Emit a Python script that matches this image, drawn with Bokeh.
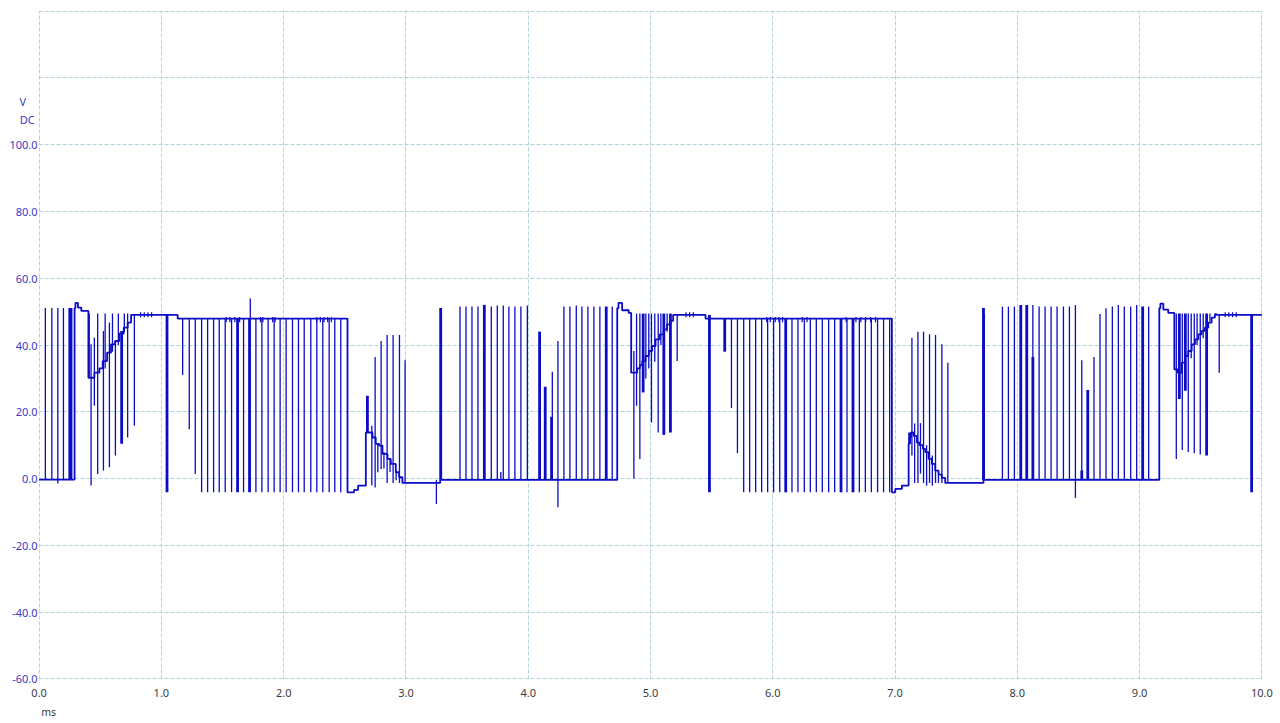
from bokeh.plotting import figure
from bokeh.models import ColumnDataSource, FixedTicker, PrintfTickFormatter, LinearAxis
from bokeh.embed import file_html
from bokeh.resources import INLINE

# ---------------- data (time in ms, voltage in V) ----------------
x_ticks = [0, 1, 2, 3, 4, 5, 6, 7, 8, 9, 10]
y_ticks = [-60, -40, -20, 0, 20, 40, 60, 80, 100, 120, 140]
y_label_hidden = [120, 140]
unit_v_at = 112.9      # "V" unit caption beside the y axis
unit_dc_at = 107.5     # "DC" coupling caption
unit_ms_at = 0.078     # "ms" caption under the x axis

# stepped baseline of the trace
base_t = [0.000, 0.290, 0.297, 0.318, 0.345, 0.403, 0.452, 0.493, 0.520, 0.556,
          0.588, 0.621, 0.656, 0.692, 0.724, 0.752, 1.133, 2.522, 2.576, 2.609,
          2.672, 2.726, 2.753, 2.780, 2.808, 2.849, 2.876, 2.917, 2.944, 2.971,
          3.280, 4.728, 4.738, 4.768, 4.822, 4.842, 4.891, 4.913, 4.932, 4.959,
          4.986, 5.013, 5.041, 5.076, 5.109, 5.136, 5.163, 5.185, 5.450, 6.974,
          7.002, 7.056, 7.111, 7.119, 7.130, 7.151, 7.179, 7.200, 7.228, 7.247,
          7.274, 7.301, 7.328, 7.356, 7.383, 7.410, 7.723, 9.161, 9.170, 9.194,
          9.234, 9.284, 9.311, 9.344, 9.371, 9.398, 9.426, 9.453, 9.480, 9.507,
          9.534, 9.562, 9.589, 9.616, 9.630, 10.000]
base_v = [-0.3, 51.0, 52.6, 51.2, 50.2, 30.2, 31.7, 33.0, 35.2, 37.7,
          40.2, 41.2, 43.4, 45.2, 46.7, 49.0, 47.9, -4.1, -3.4, -2.1,
          13.8, 12.3, 10.4, 9.9, 7.4, 5.9, 4.4, 1.9, 0.4, -1.3,
          -0.4, 51.0, 52.6, 50.4, 49.6, 31.7, 33.0, 34.0, 35.2, 36.7,
          38.2, 39.7, 41.7, 43.2, 44.7, 46.2, 47.2, 49.0, 47.9, -4.1,
          -3.1, -2.1, 10.4, 12.3, 13.8, 12.8, 10.8, 10.0, 8.9, 7.9,
          5.9, 4.4, 2.4, 1.2, 0.2, -1.3, -0.4, 51.0, 52.4, 50.6,
          49.6, 32.7, 31.7, 34.7, 36.7, 38.2, 40.2, 41.7, 43.2, 44.2,
          45.2, 46.7, 48.2, 49.2, 49.0, 49.0]

# PWM pulses / notches: (time, low, high)
start_spikes = [(0.051, -0.3, 51.1), (0.104, -0.3, 51.1), (0.153, -1.5, 51.1), (0.199, -0.3, 51.1)]
ramp1_spikes = [(0.410, 30.2, 49.4), (0.425, -2.1, 40.2), (0.452, 21.8, 42.2), (0.479, 1.4, 49.4),
                (0.526, 2.4, 44.2), (0.540, 33.0, 49.4), (0.575, 3.4, 46.7), (0.600, 38.0, 49.4),
                (0.624, 6.9, 41.2), (0.648, 40.0, 49.4), (0.697, 44.0, 49.4), (0.724, 12.3, 49.4),
                (0.779, 15.8, 49.0)]
flat1_spikes = [(1.174, 31.0, 47.9), (1.228, 14.8, 47.9), (1.277, 1.4, 47.9), (1.727, 47.9, 53.9)]
flat1_notch_t = [1.329, 1.378, 1.427, 1.473, 1.522, 1.574, 1.672, 1.773, 1.822, 1.873,
                 1.922, 1.971, 2.020, 2.072, 2.121, 2.168, 2.222, 2.271, 2.320, 2.372,
                 2.418, 2.467]
decay1_spikes = [(2.721, -2.1, 15.8), (2.748, -2.7, 36.4), (2.770, 1.9, 10.4), (2.797, 2.9, 41.2),
                 (2.820, 3.0, 8.0), (2.846, -1.3, 43.0), (2.870, 2.0, 6.0), (2.895, -1.3, 43.0),
                 (2.920, -0.5, 2.5), (2.947, -1.3, 43.0), (2.993, -1.3, 35.4), (3.249, -7.6, -0.4)]
low1_spikes = [(3.290, -0.4, 49.0), (3.442, -0.4, 51.5), (3.491, -0.4, 51.5), (3.540, -0.4, 51.5),
               (3.589, -0.4, 51.5), (3.698, -0.4, 51.5), (3.747, -0.4, 51.8), (3.776, -0.4, 2.0),
               (3.796, -0.4, 51.8), (3.842, -0.4, 51.5), (3.891, -0.4, 51.5), (3.940, -0.4, 51.5),
               (3.993, -0.4, 51.8), (4.197, -0.4, 32.0), (4.243, -8.6, 41.2), (4.292, -0.4, 51.5),
               (4.341, -0.4, 51.5), (4.393, -0.4, 51.8), (4.439, -0.4, 51.5), (4.488, -0.4, 51.5),
               (4.537, -0.4, 51.5), (4.586, -0.4, 51.5), (4.687, -0.4, 51.5)]
ramp2_spikes = [(4.864, 0.0, 38.2), (4.886, 21.8, 49.4), (4.913, 5.9, 49.4), (4.962, 30.0, 49.4),
                (4.986, 33.0, 49.4), (5.008, 16.8, 49.4), (5.035, 35.0, 49.4), (5.063, 13.8, 49.4),
                (5.085, 40.0, 49.4), (5.136, 44.0, 49.4), (5.218, 35.2, 49.0)]
flat2_spikes = [(5.662, 21.1, 47.9), (5.711, 7.6, 47.9)]
flat2_notch_t = [5.762, 5.811, 5.860, 5.909, 5.958, 6.007, 6.057, 6.157, 6.206, 6.258,
                 6.307, 6.356, 6.405, 6.457, 6.506, 6.607, 6.708, 6.757, 6.806, 6.857,
                 6.906, 6.956]
decay2_spikes = [(7.138, 6.9, 42.2), (7.160, -1.3, 16.5), (7.187, -1.3, 44.0), (7.208, 1.5, 16.6),
                 (7.233, -1.3, 44.0), (7.258, -2.1, 10.0), (7.282, -1.3, 43.2), (7.305, -2.1, 6.9),
                 (7.331, -1.3, 43.0), (7.355, -1.3, 2.0), (7.383, -1.3, 40.2), (7.432, -1.3, 34.7)]
low2_spikes = [(7.730, -0.4, 49.3), (7.878, -0.4, 51.5), (7.927, -0.4, 51.5), (7.976, -0.4, 51.5),
               (8.127, -0.4, 52.0), (8.178, -0.4, 51.5), (8.227, -0.4, 51.5), (8.276, -0.4, 51.5),
               (8.325, -0.4, 51.5), (8.377, -0.4, 51.5), (8.426, -0.4, 51.5), (8.475, -5.8, 52.0),
               (8.527, -0.4, 35.4), (8.627, -0.4, 36.4), (8.676, -0.4, 49.3), (8.725, -0.4, 51.0),
               (8.777, -0.4, 51.5), (8.826, -0.4, 52.0), (8.875, -0.4, 51.5), (8.927, -0.4, 51.5),
               (8.976, -0.4, 52.0), (9.074, -0.4, 51.5)]
ramp3_spikes = [(9.300, 5.9, 49.4), (9.349, 8.6, 49.4), (9.398, 8.0, 49.4), (9.422, 36.0, 49.4),
                (9.447, 7.6, 49.4), (9.470, 40.0, 49.4), (9.496, 7.2, 49.4), (9.520, 42.0, 49.4),
                (9.575, 47.0, 49.4), (9.651, 31.7, 49.0)]

# heavier (double-sampled) pulses: (time, low, high)
heavy_spikes = [(0.251, -0.3, 51.1), (0.261, -0.3, 51.1), (0.675, 10.4, 44.2),
                (1.046, -4.1, 49.0), (1.623, -4.1, 47.9), (1.721, -4.1, 47.9),
                (2.685, 13.8, 24.8), (3.284, -0.4, 51.1), (3.641, -0.4, 52.0),
                (4.093, -0.4, 44.0), (4.139, -0.4, 27.5), (4.191, -0.4, 18.5), (4.638, -0.4, 51.5),
                (4.940, 25.8, 49.4), (5.109, 13.1, 49.4), (5.163, 13.8, 49.4),
                (5.482, -4.1, 49.0), (5.607, 38.0, 47.9), (6.106, -4.1, 47.9), (6.558, -4.1, 47.9),
                (6.656, -4.1, 47.9), (7.119, 10.4, 13.8), (7.723, -0.4, 51.1), (8.028, -0.4, 52.0),
                (8.077, -0.4, 52.0), (8.127, -0.4, 36.4), (8.527, -0.4, 2.4), (8.576, -0.4, 26.5),
                (9.025, -0.4, 51.5), (9.325, 23.8, 49.4), (9.374, 26.3, 49.4), (9.548, 6.9, 49.4),
                (9.916, -4.1, 49.0)]

# small ripple ticks on the plateaus: (time, low, high)
ripple_ticks = [(0.83, 48.3, 49.8), (0.86, 48.3, 49.8), (0.89, 48.3, 49.8), (0.92, 48.3, 49.8),
                (1.53, 46.8, 48.4), (1.56, 46.8, 48.4), (1.60, 46.8, 48.4), (1.64, 46.8, 48.4),
                (1.81, 46.8, 48.4), (1.83, 46.8, 48.4), (1.91, 46.8, 48.4), (1.93, 46.8, 48.4),
                (2.27, 46.8, 48.4), (2.30, 46.8, 48.4), (2.33, 46.8, 48.4), (2.36, 46.8, 48.4),
                (2.39, 46.8, 48.4), (5.29, 48.3, 49.8), (5.32, 48.3, 49.8), (5.35, 48.3, 49.8),
                (5.95, 46.8, 48.4), (5.98, 46.8, 48.4), (6.02, 46.8, 48.4), (6.05, 46.8, 48.4),
                (6.08, 46.8, 48.4), (6.24, 46.8, 48.4), (6.28, 46.8, 48.4), (6.60, 46.8, 48.4),
                (6.68, 46.8, 48.4), (6.72, 46.8, 48.4), (6.76, 46.8, 48.4), (6.80, 46.8, 48.4),
                (6.84, 46.8, 48.4), (9.70, 48.3, 49.8), (9.73, 48.3, 49.8), (9.76, 48.3, 49.8),
                (9.79, 48.3, 49.8)]

flat_notch_lo = -4.1
flat_notch_hi = 47.9

# ---------------- assemble ----------------
thin = (start_spikes + ramp1_spikes + flat1_spikes
        + [(t, flat_notch_lo, flat_notch_hi) for t in flat1_notch_t]
        + decay1_spikes + low1_spikes + ramp2_spikes + flat2_spikes
        + [(t, flat_notch_lo, flat_notch_hi) for t in flat2_notch_t]
        + decay2_spikes + low2_spikes + ramp3_spikes)

def cds(rows):
    return ColumnDataSource(dict(t=[r[0] for r in rows], lo=[r[1] for r in rows], hi=[r[2] for r in rows]))

TRACE = "#0c0cc6"
YLAB = "#3a3ac2"
XLAB = "#3c3c3c"
GRID = "#b2d3da"
FONT = "Noto Sans"
NB = "\u00a0"

p = figure(frame_width=1224, frame_height=669, x_range=(-0.005, 10.005), y_range=(-60.15, 140.15),
           output_backend="svg", toolbar_location=None,
           min_border_left=38, min_border_right=18, min_border_top=10, min_border_bottom=44)
p.outline_line_color = None
p.background_fill_color = "white"
p.border_fill_color = "white"

p.xaxis.ticker = FixedTicker(ticks=x_ticks)
p.yaxis.ticker = FixedTicker(ticks=y_ticks + [unit_dc_at, unit_v_at])
p.xgrid.ticker = FixedTicker(ticks=x_ticks)
p.ygrid.ticker = FixedTicker(ticks=y_ticks)
p.xaxis.formatter = PrintfTickFormatter(format="%.1f")
p.yaxis.formatter = PrintfTickFormatter(format="%.1f")
overrides = {v: "" for v in y_label_hidden}
overrides[unit_v_at] = "V" + NB * 4
overrides[unit_dc_at] = "DC" + NB
p.yaxis.major_label_overrides = overrides

ms_axis = LinearAxis(ticker=FixedTicker(ticks=[unit_ms_at]),
                     major_label_overrides={unit_ms_at: "ms"})
p.add_layout(ms_axis, "below")

for ax in (p.xaxis[0], p.yaxis[0], ms_axis):
    ax.axis_line_color = None
    ax.major_tick_line_color = None
    ax.minor_tick_line_color = None
    ax.major_tick_out = 0
    ax.major_tick_in = 0
    ax.minor_tick_out = 0
    ax.minor_tick_in = 0
    ax.major_label_text_font = FONT
    ax.major_label_text_font_size = "11px"
p.yaxis.major_label_text_color = YLAB
p.xaxis[0].major_label_text_color = XLAB
ms_axis.major_label_text_color = XLAB
ms_axis.major_label_text_font_size = "10.5px"
p.yaxis.major_label_standoff = 1
p.xaxis[0].major_label_standoff = 9
ms_axis.major_label_standoff = 5

for g in (p.xgrid[0], p.ygrid[0]):
    g.grid_line_color = GRID
    g.grid_line_dash = "4 2"
    g.grid_line_width = 1

p.segment(x0="t", y0="lo", x1="t", y1="hi", source=cds(ripple_ticks), line_color=TRACE, line_width=1.2)
p.segment(x0="t", y0="lo", x1="t", y1="hi", source=cds(thin), line_color=TRACE, line_width=1.3)
p.segment(x0="t", y0="lo", x1="t", y1="hi", source=cds(heavy_spikes), line_color=TRACE, line_width=2.8)
p.step(x=base_t, y=base_v, mode="after", line_color=TRACE, line_width=1.8)

open("out.html", "w").write(file_html(p, INLINE))
